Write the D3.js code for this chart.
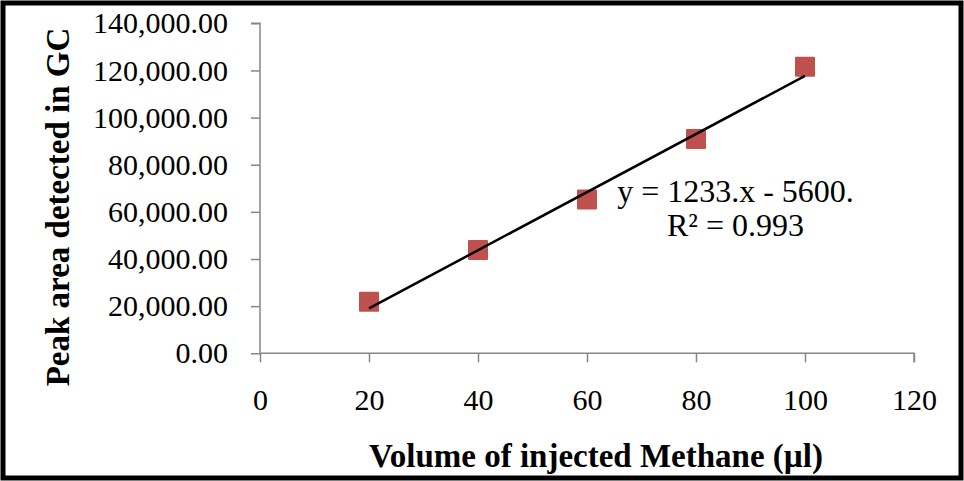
<!DOCTYPE html>
<html><head><meta charset="utf-8">
<script src="https://cdn.jsdelivr.net/npm/d3@7"></script>
<style>body{margin:0;background:#fff}svg{display:block}</style>
</head><body>
<script>
const xValues = [20, 40, 60, 80, 100];
const yValues = [21900, 43800, 65300, 90900, 121600];
const xTicks = [0, 20, 40, 60, 80, 100, 120];
const yTicks = [0, 20000, 40000, 60000, 80000, 100000, 120000, 140000];
const trendSlope = 1233;
const trendIntercept = -5600;
const equationText = "y = 1233.x - 5600.";
const r2Text = "R² = 0.993";
const xTitle = "Volume of injected Methane (µl)";
const yTitle = "Peak area detected in GC";

(function () {
const W = 964, H = 481;
const svg = d3.select("body").append("svg").attr("width", W).attr("height", H);
svg.append("rect").attr("x", 3).attr("y", 3).attr("width", W - 6).attr("height", H - 6)
  .attr("fill", "#fff").attr("stroke", "#000").attr("stroke-width", 5);

const pL = 260, pR = 914, pT = 23.3, pB = 353.3;
const x = d3.scaleLinear().domain([0, 120]).range([pL, pR]);
const y = d3.scaleLinear().domain([0, 140000]).range([pB, pT]);
const font = "'Liberation Serif','Times New Roman',serif";
const axisColor = "#868686";

const yAxis = svg.append("g").attr("transform", `translate(${pL},0)`)
  .call(d3.axisLeft(y).tickValues(yTicks).tickSize(9).tickPadding(23)
    .tickFormat(d => d3.format(",.2f")(d)));
const xAxis = svg.append("g").attr("transform", `translate(0,${pB})`)
  .call(d3.axisBottom(x).tickValues(xTicks).tickSize(9).tickPadding(26));
[xAxis, yAxis].forEach(g => {
  g.selectAll("path,line").attr("stroke", axisColor).attr("stroke-width", 1.5);
  g.selectAll("text").attr("font-family", font).attr("font-size", 30).attr("fill", "#000");
});
xAxis.select(".domain").attr("d", `M${pL},0H${pR}V9`);
yAxis.select(".domain").attr("d", `M-9,${pT}H0V${pB}`);

const n = xValues.length;
const s = 20;
svg.selectAll("rect.pt").data(xValues).join("rect").attr("class", "pt")
  .attr("x", (d) => x(d) - s / 2).attr("y", (d, i) => y(yValues[i]) - s / 2)
  .attr("width", s).attr("height", s).attr("rx", 1)
  .attr("fill", "#C0504D");

svg.append("line")
  .attr("x1", x(xValues[0])).attr("y1", y(trendSlope * xValues[0] + trendIntercept))
  .attr("x2", x(xValues[n - 1])).attr("y2", y(trendSlope * xValues[n - 1] + trendIntercept))
  .attr("stroke", "#000").attr("stroke-width", 2.5);

svg.append("text").attr("x", 735.5).attr("y", 202).attr("text-anchor", "middle")
  .attr("font-family", font).attr("font-size", 32).text(equationText);
svg.append("text").attr("x", 735.5).attr("y", 236).attr("text-anchor", "middle")
  .attr("font-family", font).attr("font-size", 32).text(r2Text);

svg.append("text").attr("x", 596).attr("y", 467).attr("text-anchor", "middle")
  .attr("font-family", font).attr("font-size", 33).attr("font-weight", "bold").text(xTitle);
svg.append("text").attr("transform", "translate(69,207) rotate(-90)").attr("text-anchor", "middle")
  .attr("font-family", font).attr("font-size", 33).attr("font-weight", "bold").text(yTitle);
})();
</script>
</body></html>
